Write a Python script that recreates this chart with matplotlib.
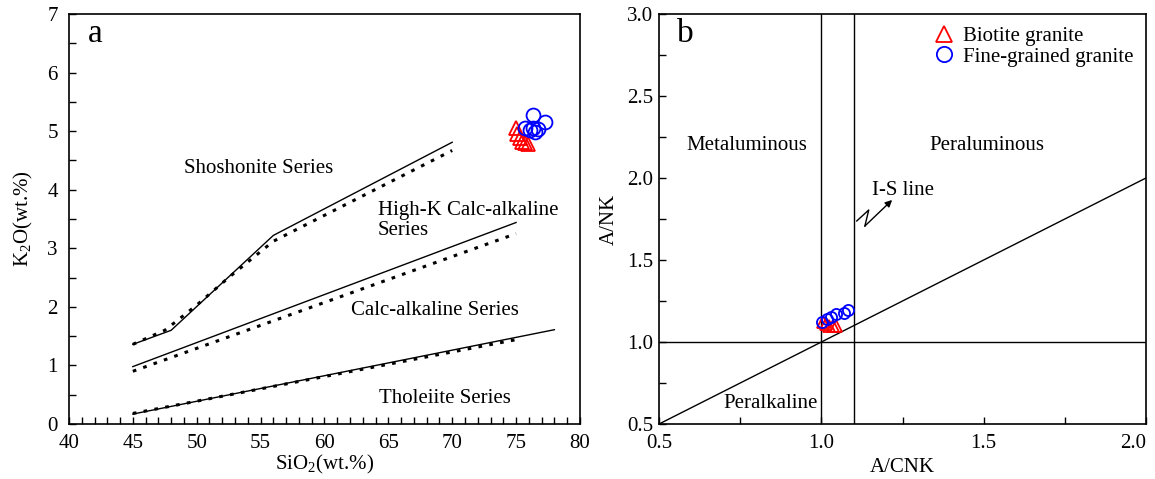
import numpy as np
import matplotlib
matplotlib.use('Agg')
import matplotlib.pyplot as plt
from matplotlib.ticker import MultipleLocator, FuncFormatter

plt.rcParams['font.family'] = ['Liberation Serif', 'DejaVu Serif']
plt.rcParams['mathtext.fontset'] = 'custom'
plt.rcParams['mathtext.rm'] = 'Liberation Serif'

# ---- panel a: SiO2 vs K2O boundaries (solid / dotted) ----
sho_solid_x = [45, 48, 56, 70]
sho_solid_y = [1.36, 1.60, 3.22, 4.81]
sho_dot_x = [45, 47.5, 48.5, 50, 52.5, 56, 70]
sho_dot_y = [1.36, 1.60, 1.77, 2.03, 2.50, 3.12, 4.67]
hk_solid_x = [45, 75]
hk_solid_y = [0.98, 3.44]
hk_dot_x = [45, 75]
hk_dot_y = [0.90, 3.25]
th_solid_x = [45, 78]
th_solid_y = [0.17, 1.61]
th_dot_x = [45, 75]
th_dot_y = [0.18, 1.44]

# samples
bt_sio2 = [75.0, 75.1, 75.3, 75.5, 75.7, 75.9]
bt_k2o = [5.05, 4.95, 4.88, 4.82, 4.79, 4.78]
fg_sio2 = [76.35, 77.26, 75.69, 76.35, 76.74, 76.09, 76.48]
fg_k2o = [5.28, 5.16, 5.05, 5.05, 5.03, 5.02, 4.99]

# ---- panel b: A/CNK vs A/NK ----
bt_acnk = [1.005, 1.015, 1.025, 1.035, 1.045]
bt_ank = [1.12, 1.11, 1.10, 1.10, 1.10]
fg_acnk = [1.002, 1.017, 1.030, 1.045, 1.070, 1.082]
fg_ank = [1.124, 1.140, 1.154, 1.171, 1.175, 1.195]

fig = plt.figure(figsize=(11.55, 4.79), dpi=100)
ax1 = fig.add_axes([0.0597, 0.1148, 0.4424, 0.856])
ax2 = fig.add_axes([0.5706, 0.1148, 0.4216, 0.856])

dot = (0, (1.2, 2.4))
ax1.plot(sho_solid_x, sho_solid_y, color='black', lw=1.0)
ax1.plot(sho_dot_x, sho_dot_y, color='black', lw=2.2, linestyle=dot)
ax1.plot(hk_solid_x, hk_solid_y, color='black', lw=1.0)
ax1.plot(hk_dot_x, hk_dot_y, color='black', lw=2.2, linestyle=dot)
ax1.plot(th_solid_x, th_solid_y, color='black', lw=1.0)
ax1.plot(th_dot_x, th_dot_y, color='black', lw=2.2, linestyle=dot)

ax1.plot(bt_sio2, bt_k2o, linestyle='none', marker='^', ms=10,
         mfc='none', mec='red', mew=1.3)
ax1.plot(fg_sio2, fg_k2o, linestyle='none', marker='o', ms=10,
         mfc='none', mec='blue', mew=1.3)

fs = 15
ax1.text(54.87, 4.37, 'Shoshonite Series', ha='center', va='center', fontsize=fs)
ax1.text(64.2, 3.65, 'High-K Calc-alkaline', ha='left', va='center', fontsize=fs)
ax1.text(64.2, 3.30, 'Series', ha='left', va='center', fontsize=fs)
ax1.text(62.1, 1.93, 'Calc-alkaline Series', ha='left', va='center', fontsize=fs)
ax1.text(64.3, 0.44, 'Tholeiite Series', ha='left', va='center', fontsize=fs)
ax1.text(0.037, 0.952, 'a', transform=ax1.transAxes, ha='left', va='center',
         fontsize=24)

ax1.set_xlim(40, 80)
ax1.set_ylim(0, 7)
ax1.xaxis.set_major_locator(MultipleLocator(5))
ax1.xaxis.set_minor_locator(MultipleLocator(1))
ax1.yaxis.set_major_locator(MultipleLocator(1))
ax1.yaxis.set_minor_locator(MultipleLocator(0.5))
ax1.tick_params(which='both', direction='in', length=5, width=1.0,
                labelsize=15, top=False, right=False)
ax1.tick_params(axis='x', pad=7)
ax1.tick_params(axis='y', pad=8)
ax1.set_xlabel('SiO$_2$(wt.%)', fontsize=15, labelpad=0)
ax1.set_ylabel('K$_2$O(wt.%)', fontsize=15, labelpad=9)

# panel b
ax2.axvline(1.0, color='black', lw=1.0)
ax2.axvline(1.1, color='black', lw=1.0)
ax2.axhline(1.0, color='black', lw=1.0)
ax2.plot([0.5, 2.0], [0.5, 2.0], color='black', lw=1.0)

ax2.plot(bt_acnk, bt_ank, linestyle='none', marker='^', ms=8,
         mfc='none', mec='red', mew=1.3, label='Biotite granite')
ax2.plot(fg_acnk, fg_ank, linestyle='none', marker='o', ms=8,
         mfc='none', mec='blue', mew=1.3, label='Fine-grained granite')

ax2.text(0.771, 2.197, 'Metaluminous', ha='center', va='center', fontsize=fs)
ax2.text(1.511, 2.197, 'Peraluminous', ha='center', va='center', fontsize=fs)
ax2.text(0.842, 0.626, 'Peralkaline', ha='center', va='center', fontsize=fs)
ax2.text(1.155, 1.923, 'I-S line', ha='left', va='center', fontsize=fs)
ax2.plot([1.109, 1.146, 1.134], [1.738, 1.805, 1.707], color='black', lw=1.0)
ax2.annotate('', xy=(1.218, 1.866), xytext=(1.134, 1.707),
             arrowprops=dict(arrowstyle='-|>', color='black', lw=1.0,
                             mutation_scale=10, shrinkA=0, shrinkB=0))
ax2.text(0.037, 0.952, 'b', transform=ax2.transAxes, ha='left', va='center',
         fontsize=24)

leg = ax2.legend(loc='upper right', frameon=False, fontsize=15,
                 handlelength=0.8, handletextpad=0.5, labelspacing=0.05,
                 borderaxespad=0.2, bbox_to_anchor=(1.0, 1.0))
for h in leg.legend_handles:
    h.set_markersize(11)

ax2.set_xlim(0.5, 2.0)
ax2.set_ylim(0.5, 3.0)
ax2.xaxis.set_major_locator(MultipleLocator(0.5))
ax2.xaxis.set_minor_locator(MultipleLocator(0.25))
ax2.yaxis.set_major_locator(MultipleLocator(0.5))
ax2.yaxis.set_minor_locator(MultipleLocator(0.25))
# last x label (2.0) is drawn separately, nudged left so it stays in the figure
ax2.xaxis.set_major_formatter(
    FuncFormatter(lambda v, p: '' if v >= 1.99 else '%.1f' % v))
ax2.yaxis.set_major_formatter(plt.FormatStrFormatter('%.1f'))
ax2.tick_params(which='both', direction='in', length=5, width=1.0,
                labelsize=15, top=False, right=False)
ax2.tick_params(axis='x', pad=7)
ax2.tick_params(axis='y', pad=4)
ax2.annotate('2.0', xy=(2.0, 0), xycoords=ax2.get_xaxis_transform(),
             xytext=(-9, -7), textcoords='offset points',
             ha='center', va='top', fontsize=15, annotation_clip=False)
ax2.set_xlabel('A/CNK', fontsize=15, labelpad=4)
ax2.set_ylabel('A/NK', fontsize=15, labelpad=6)

for ax in (ax1, ax2):
    for s in ax.spines.values():
        s.set_linewidth(1.2)

fig.savefig('out.png', dpi=100)
